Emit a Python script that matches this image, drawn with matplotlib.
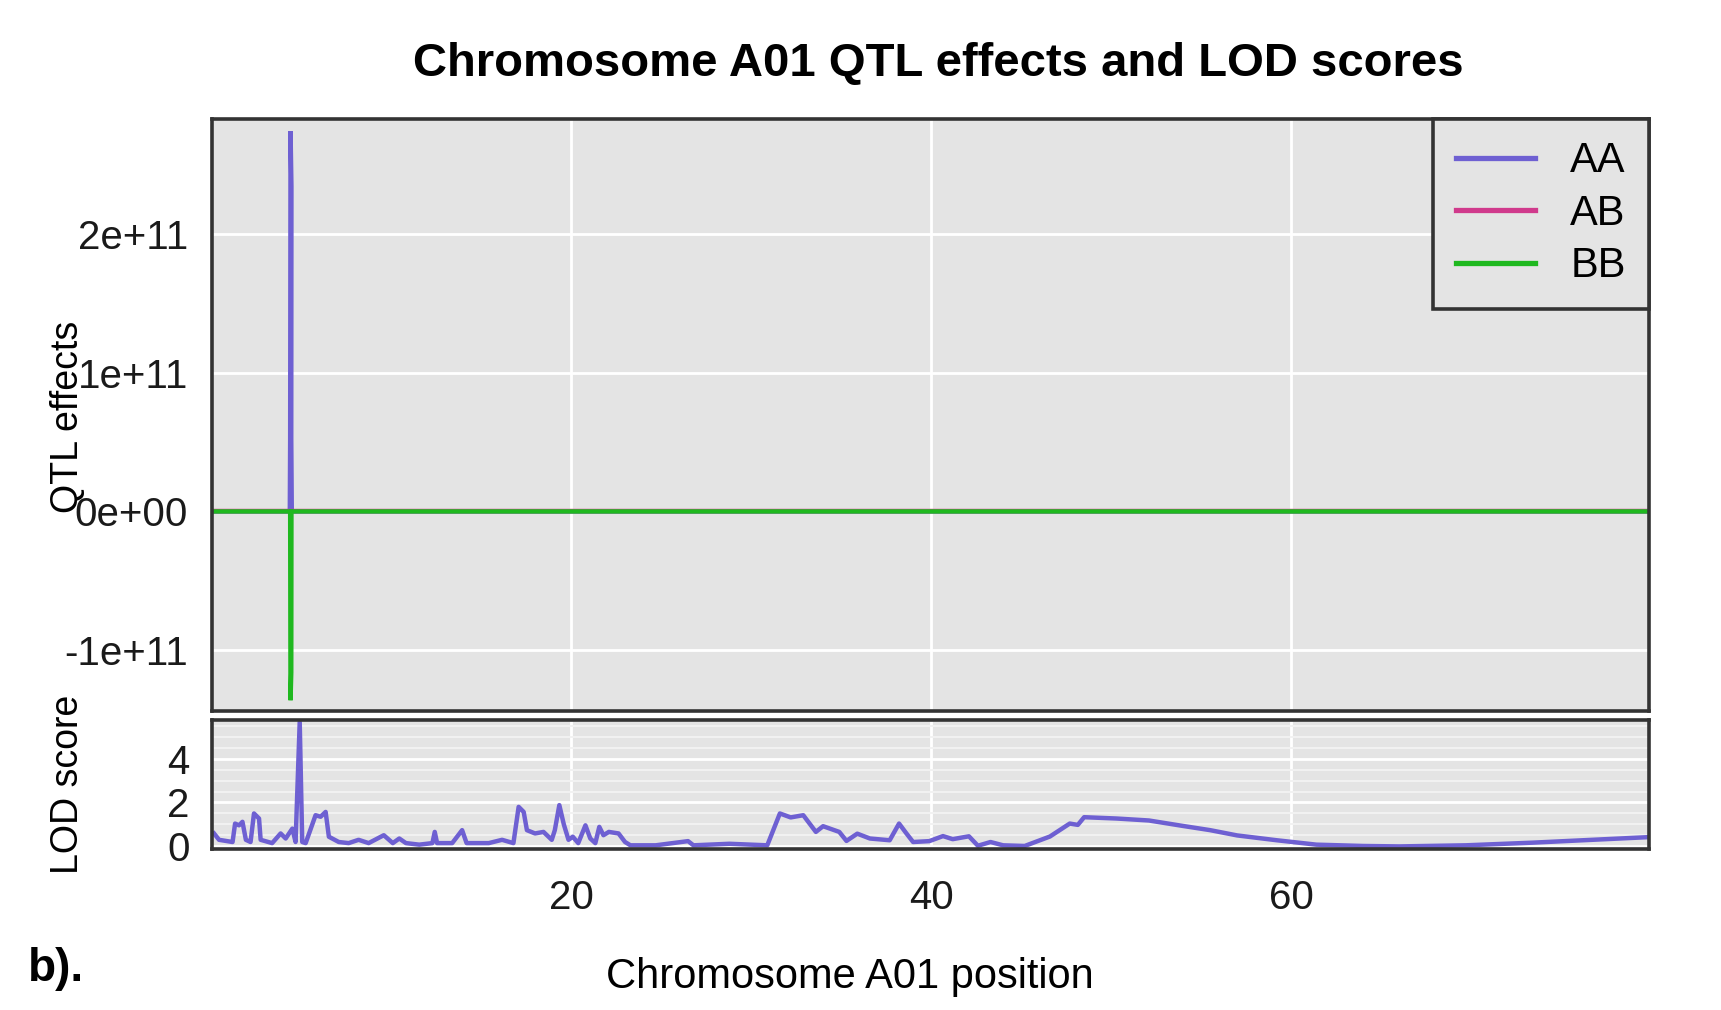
import matplotlib
matplotlib.use("Agg")
import matplotlib.pyplot as plt
from matplotlib.ticker import FixedLocator

plt.rcParams["font.family"] = ["Liberation Sans", "DejaVu Sans"]

# ---- data ----
# QTL effects (zero everywhere except the spike near 4.4-4.5 cM)
aa_pos = [0.1, 4.38, 4.40, 4.42, 4.47, 4.46, 4.49, 79.8]
aa_eff = [0, 0, 0.52e11, 2.74e11, 2.34e11, 0.52e11, 0, 0]
ab_pos = [0.1, 79.8]
ab_eff = [0, 0]
bb_pos = [0.1, 4.40, 4.42, 4.46, 4.47, 79.8]
bb_eff = [0, 0, -1.36e11, -1.16e11, 0, 0]

lod_pos = [0.17, 0.45, 1.20, 1.34, 1.56, 1.75, 1.94, 2.20, 2.39, 2.67,
           2.76, 3.40, 3.87, 4.15, 4.52, 4.70, 4.93, 5.07, 5.26, 5.81,
           6.09, 6.37, 6.55, 7.10, 7.65, 8.20, 8.76, 9.60, 10.10, 10.46,
           10.83, 11.57, 12.30, 12.43, 12.56, 13.40, 13.95, 14.20, 15.43, 16.17,
           16.80, 17.09, 17.37, 17.55, 18.00, 18.47, 18.93, 19.10, 19.35, 19.60,
           19.86, 20.10, 20.40, 20.80, 21.07, 21.35, 21.57, 21.80, 22.10, 22.64,
           23.00, 23.30, 24.70, 26.50, 26.80, 28.80, 30.90, 31.60, 32.20, 32.90,
           33.60, 34.00, 34.90, 35.30, 35.90, 36.60, 37.70, 38.22, 38.63, 39.00,
           39.90, 40.66, 41.20, 42.10, 42.60, 43.30, 44.00, 45.20, 46.60, 47.70,
           48.15, 48.50, 50.30, 52.10, 54.00, 55.50, 57.00, 59.20, 61.40, 64.00,
           66.00, 69.70, 73.40, 76.20, 79.80]
lod_val = [0.59, 0.30, 0.20, 1.04, 0.96, 1.12, 0.30, 0.20, 1.50, 1.27,
           0.30, 0.15, 0.59, 0.36, 0.81, 0.20, 5.67, 0.20, 0.15, 1.42,
           1.35, 1.57, 0.44, 0.20, 0.15, 0.30, 0.15, 0.51, 0.15, 0.36,
           0.15, 0.08, 0.15, 0.66, 0.15, 0.15, 0.74, 0.15, 0.15, 0.30,
           0.15, 1.80, 1.57, 0.74, 0.59, 0.66, 0.30, 0.74, 1.88, 1.00,
           0.30, 0.44, 0.15, 0.96, 0.36, 0.15, 0.89, 0.51, 0.66, 0.59,
           0.20, 0.05, 0.05, 0.24, 0.05, 0.12, 0.05, 1.50, 1.32, 1.42,
           0.66, 0.92, 0.66, 0.25, 0.58, 0.36, 0.28, 1.04, 0.59, 0.20,
           0.24, 0.47, 0.33, 0.46, 0.03, 0.20, 0.05, 0.02, 0.45, 1.04,
           0.98, 1.33, 1.27, 1.18, 0.93, 0.74, 0.50, 0.28, 0.08, 0.02,
           0.00, 0.05, 0.17, 0.28, 0.42]

qtl_ticks = [-1e11, 0, 1e11, 2e11]
qtl_labels = ["-1e+11", "0e+00", "1e+11", "2e+11"]
lod_ticks = [0, 2, 4]
x_ticks = [20, 40, 60]

C_AA = "#6e60d2"
C_AB = "#d03a8c"
C_BB = "#1fb81f"
PANEL = "#e4e4e4"
FRAME = "#333333"
FS = 29

fig = plt.figure(figsize=(17.21, 10.10), dpi=100)
fig.patch.set_facecolor("white")

ax = fig.add_axes([0.1231, 0.2957, 0.8348, 0.5869])
ax2 = fig.add_axes([0.1231, 0.1598, 0.8348, 0.1272], sharex=ax)

for a in (ax, ax2):
    a.set_facecolor(PANEL)
    for s in a.spines.values():
        s.set_color(FRAME)
        s.set_linewidth(2.6)
    a.tick_params(length=0, labelsize=FS, colors="#1a1a1a")
    a.set_axisbelow(True)

# ---- top: QTL effects ----
ax.plot(aa_pos, aa_eff, color=C_AA, lw=3.2, label="AA", solid_joinstyle="miter")
ax.plot(ab_pos, ab_eff, color=C_AB, lw=3.2, label="AB")
ax.plot(bb_pos, bb_eff, color=C_BB, lw=3.2, label="BB", solid_joinstyle="miter")
ax.set_xlim(0.05, 79.85)
ax.set_ylim(-1.44e11, 2.83e11)
ax.set_yticks(qtl_ticks)
ax.set_yticklabels(qtl_labels)
ax.tick_params(axis="y", pad=17)
ax.tick_params(axis="x", labelbottom=False)
ax.set_xticks(x_ticks)
ax.grid(True, color="white", lw=2.0)

leg = ax.legend(loc="upper right", fontsize=FS + 1, borderaxespad=0, fancybox=False,
                handlelength=1.9, handletextpad=0.85, labelspacing=0.3,
                borderpad=0.55, framealpha=1)
leg.get_frame().set_facecolor(PANEL)
leg.get_frame().set_edgecolor(FRAME)
leg.get_frame().set_linewidth(2.6)
for line in leg.get_lines():
    line.set_linewidth(3.8)

# ---- bottom: LOD score ----
ax2.plot(lod_pos, lod_val, color=C_AA, lw=3.2)
ax2.set_ylim(-0.1, 5.75)
ax2.set_yticks(lod_ticks)
ax2.yaxis.set_minor_locator(FixedLocator([0.5, 1, 1.5, 2.5, 3, 3.5, 4.5, 5, 5.5]))
ax2.tick_params(axis="y", which="minor", length=0)
ax2.tick_params(axis="y", pad=16)
ax2.tick_params(axis="x", pad=22)
ax2.set_xticks(x_ticks)
ax2.grid(True, which="major", color="white", lw=2.0)
ax2.grid(True, which="minor", axis="y", color="#f2f2f2", lw=1.4)

# ---- text ----
fig.text(0.545, 0.937, "Chromosome A01 QTL effects and LOD scores",
         ha="center", va="center", fontsize=34, fontweight="bold")
fig.text(0.0395, 0.587, "QTL effects", rotation=90, ha="center", va="center",
         fontsize=27)
fig.text(0.0395, 0.223, "LOD score", rotation=90, ha="center", va="center",
         fontsize=27)
fig.text(0.494, 0.033, "Chromosome A01 position", ha="center", va="center",
         fontsize=30)
fig.text(0.016, 0.041, "b).", ha="left", va="center", fontsize=33,
         fontweight="bold")

fig.savefig("out.png", dpi=100, facecolor="white")
